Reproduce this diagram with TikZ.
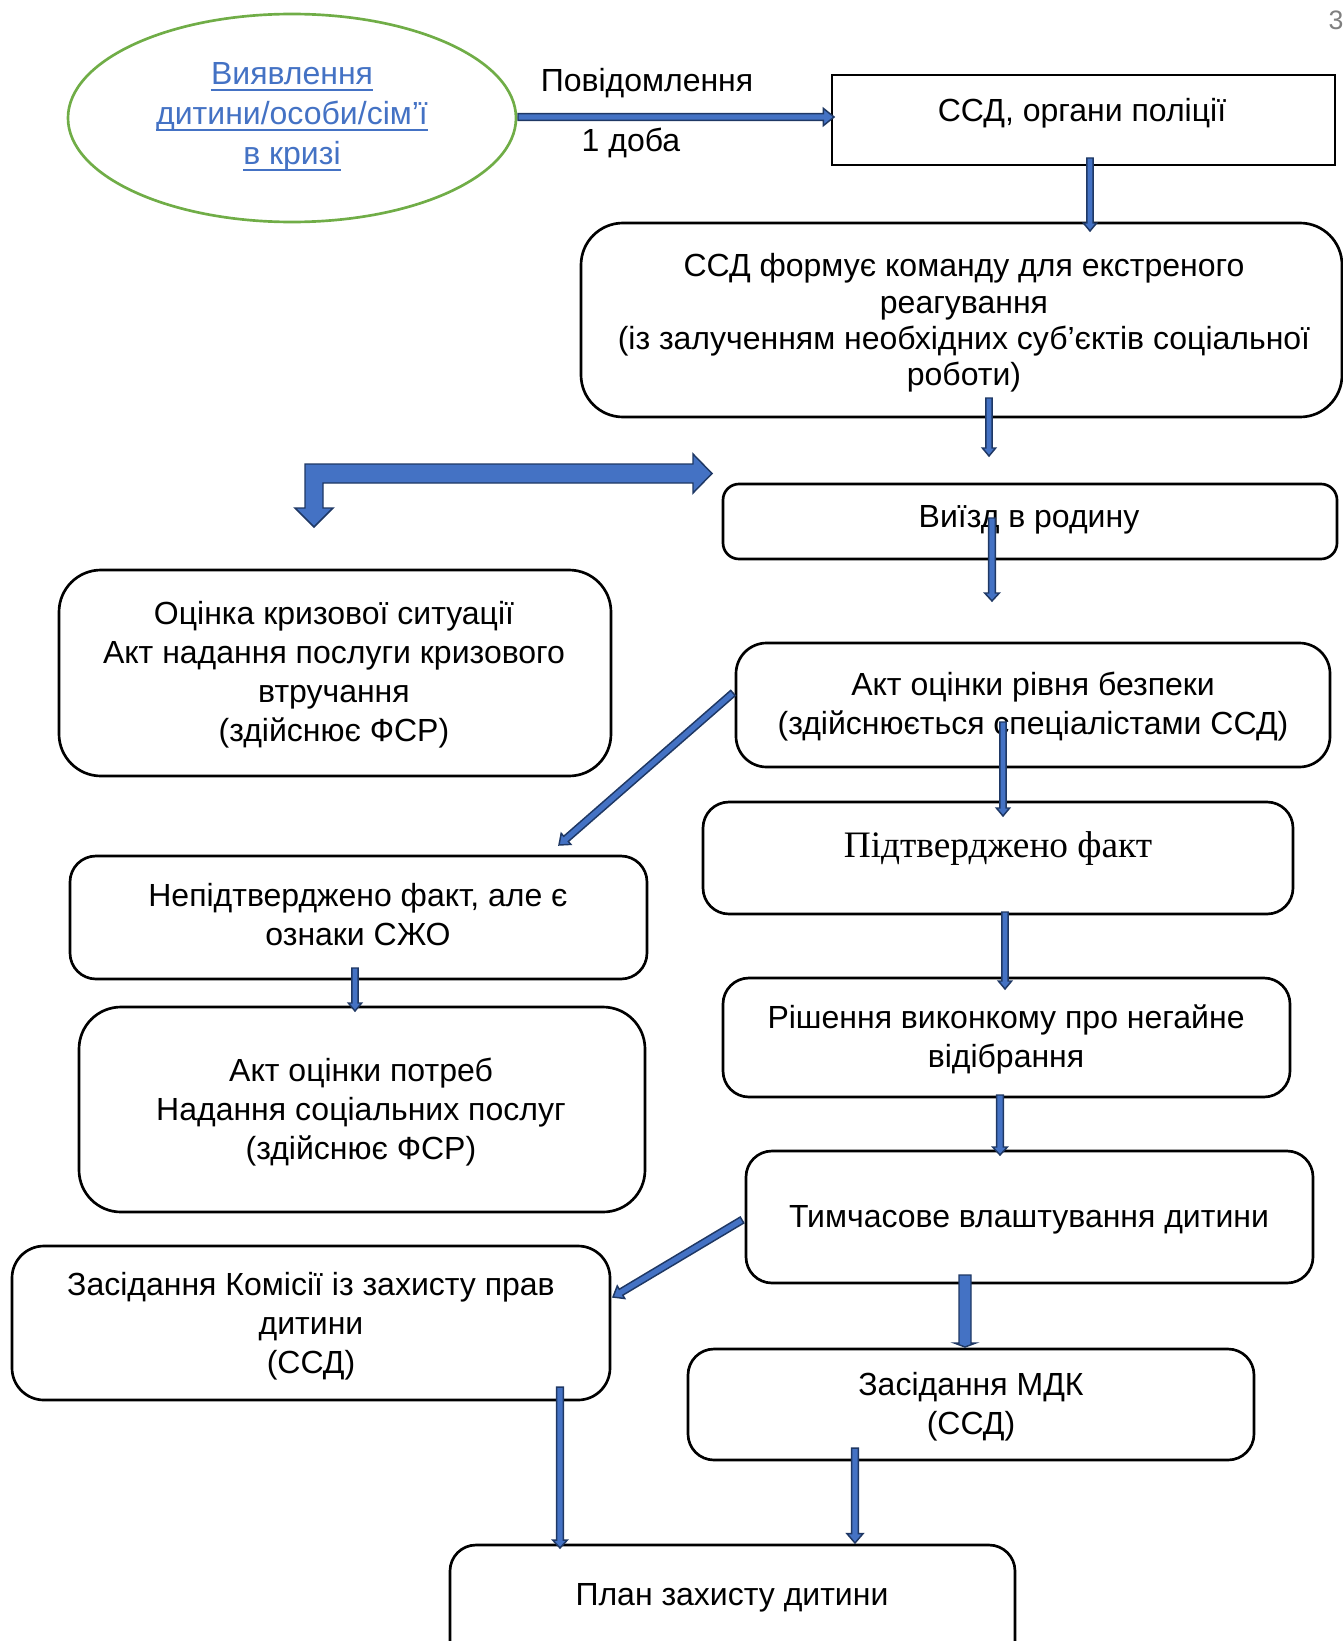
\documentclass[tikz,border=0pt]{standalone}
\usepackage{fontspec}
\setmainfont{Liberation Sans}
\newfontfamily\serifua{Liberation Serif}
\usetikzlibrary{calc,fit,shapes.geometric}
\definecolor{pblue}{HTML}{4472C4}
\definecolor{pnavy}{HTML}{1F3864}
\definecolor{pgreen}{HTML}{70AD47}
\definecolor{pgray}{HTML}{7F7F7F}
\newcommand\blk[5]{% from, to, half shaft, half head, head length
  \coordinate (bkh) at ($(#2)!#5!(#1)$);
  \filldraw[blkarrow] ($(#1)!#3!90:(#2)$) -- ($(bkh)!#3!90:(#2)$) -- ($(bkh)!#4!90:(#2)$) -- (#2)
    -- ($(bkh)!#4!-90:(#2)$) -- ($(bkh)!#3!-90:(#2)$) -- ($(#1)!#3!-90:(#2)$) -- cycle;
}
\newcommand\ulinenode[1]{%
  \draw[pblue,line width=1.4pt] ($(#1.base west)+(0,5)$) -- ($(#1.base east)+(0,5)$);
}
\begin{document}
\begin{tikzpicture}[x=0.75pt,y=-0.75pt,
  blkarrow/.style={fill=pblue,draw=pnavy,line width=1.1pt,line join=miter},
  rbox/.style={draw,line width=2pt,rounded corners=#1,inner sep=0pt},
  sbox/.style={draw,line width=2.1pt,inner sep=0pt},
  txt/.style={align=center,inner sep=0pt,yshift=-2.25pt,font=\fontsize{24}{29.3}\selectfont},
  txtb/.style={align=center,inner sep=0pt,yshift=-2.25pt,font=\fontsize{24}{27.3}\selectfont},
  eltxt/.style={anchor=base,inner sep=0pt,yshift=-1.5pt,text=pblue,font=\fontsize{24}{29.3}\selectfont}]
\useasboundingbox (0,0) rectangle (1342,1641);

% page number
\node[inner sep=0pt,text=pgray,font=\fontsize{20}{24}\selectfont] (pg) at (1336,20) {3};

% ellipse
\node[ellipse,draw=pgreen,line width=2pt,minimum width=336pt,minimum height=156pt,inner sep=0pt] (ell) at (292,118) {};
\node[eltxt] (el1) at (292,83) {Виявлення};
\node[eltxt] (el2) at (292,123) {дитини/особи/сім’ї};
\node[eltxt] (el3) at (292,163) {в кризі};
\ulinenode{el1}
\ulinenode{el2}
\ulinenode{el3}

\node[txt] (povid) at (647,80) {Повідомлення};
\node[txt] (doba) at (631,140) {1 доба};

% boxes
\node[sbox,fit={(832,75) (1335,165)}] (ssd) {};
\node[txt] (ssdt) at (1082,110) {ССД, органи поліції};

\node[rbox=31.5pt,fit={(581,223) (1342,417)}] (team) {};
\node[txtb] (teamt) at (964,320) {ССД формує команду для екстреного\\реагування\\(із залученням необхідних суб’єктів соціальної\\роботи)};

\node[rbox=12pt,fit={(723,484) (1337,559)}] (viizd) {};
\node[txt] (viizdt) at (1029,517) {Виїзд в родину};

\node[rbox=31.5pt,fit={(59,570) (611,776)}] (ocinka) {};
\node[txt] (ocinkat) at (334,672) {Оцінка кризової ситуації\\Акт надання послуги кризового\\втручання\\(здійснює ФСР)};

\node[rbox=23pt,fit={(736,643) (1330,767)}] (bezp) {};
\node[txt] (bezpt) at (1033,704) {Акт оцінки рівня безпеки\\(здійснюється спеціалістами ССД)};

\node[rbox=19.5pt,fit={(703,802) (1293,914)}] (fakt) {};
\node[inner sep=0pt,yshift=-2.25pt,font=\serifua\fontsize{28}{32}\selectfont] (faktt) at (998,846) {Підтверджено факт};

\node[rbox=19.5pt,fit={(70,856) (647,979)}] (nepid) {};
\node[txt] (nepidt) at (358,912) {Непідтверджено факт, але є\\ознаки СЖО};

\node[rbox=31.5pt,fit={(79,1007) (645,1212)}] (potreb) {};
\node[txt] (potrebt) at (361,1109) {Акт оцінки потреб\\Надання соціальних послуг\\(здійснює ФСР)};

\node[rbox=19.5pt,fit={(723,978) (1290,1097)}] (rish) {};
\node[txt] (risht) at (1006,1036) {Рішення виконкому про негайне\\відібрання};

\node[rbox=19.5pt,fit={(746,1151) (1313,1283)}] (tymch) {};
\node[txt] (tymcht) at (1029,1217) {Тимчасове влаштування дитини};

\node[rbox=24pt,fit={(12,1246) (610,1400)}] (komis) {};
\node[txt] (komist) at (311,1323) {Засідання Комісії із захисту прав\\дитини\\(ССД)};

\node[rbox=19.5pt,fit={(688,1349) (1254,1460)}] (mdk) {};
\node[txt] (mdkt) at (971,1404) {Засідання МДК\\(ССД)};

\node[rbox=19.5pt,fit={(450,1545) (1015,1680)}] (plan) {};
\node[txt] (plant) at (732,1595) {План захисту дитини};

% bent block arrow
\filldraw[blkarrow] (305,464) -- (693,464) -- (693,454) -- (712,473.5) -- (693,493) -- (693,483)
  -- (323,483) -- (323,508) -- (333,508) -- (314,527) -- (295,508) -- (305,508) -- cycle;

% connector coordinates
\coordinate (a1s) at (518,117);
\coordinate (a1e) at (834,117);
\coordinate (a2s) at (1090,158);
\coordinate (a2e) at (1090,231);
\coordinate (a3s) at (989,398);
\coordinate (a3e) at (989,456);
\coordinate (a4s) at (992,518);
\coordinate (a4e) at (992,601);
\coordinate (a5s) at (733,693);
\coordinate (a5e) at (559,845);
\coordinate (a6s) at (1003,722);
\coordinate (a6e) at (1003,816);
\coordinate (a7s) at (1005,912);
\coordinate (a7e) at (1005,989);
\coordinate (a8s) at (355,968);
\coordinate (a8e) at (355,1011);
\coordinate (a9s) at (1000,1095);
\coordinate (a9e) at (1000,1155);
\coordinate (a10s) at (742,1220);
\coordinate (a10e) at (613,1297);
\coordinate (a11s) at (965,1275);
\coordinate (a11e) at (965,1347);
\coordinate (a12s) at (560,1387);
\coordinate (a12e) at (560,1548);
\coordinate (a13s) at (855,1448);
\coordinate (a13e) at (855,1543);

\blk{a1s}{a1e}{2.6pt}{6.5pt}{8pt}
\blk{a2s}{a2e}{2.3pt}{5pt}{6pt}
\blk{a3s}{a3e}{2.3pt}{5pt}{6pt}
\blk{a4s}{a4e}{2.6pt}{5.5pt}{6pt}
\blk{a5s}{a5e}{2.6pt}{5.5pt}{7pt}
\blk{a6s}{a6e}{2.3pt}{5pt}{6pt}
\blk{a7s}{a7e}{2.3pt}{5pt}{6pt}
\blk{a8s}{a8e}{2.3pt}{5pt}{6pt}
\blk{a9s}{a9e}{2.6pt}{5.5pt}{6pt}
\blk{a10s}{a10e}{2.6pt}{5.5pt}{7pt}
\blk{a11s}{a11e}{4.5pt}{8pt}{3pt}
\blk{a12s}{a12e}{2.6pt}{5.5pt}{6pt}
\blk{a13s}{a13e}{2.6pt}{6pt}{7pt}
\end{tikzpicture}
\end{document}
